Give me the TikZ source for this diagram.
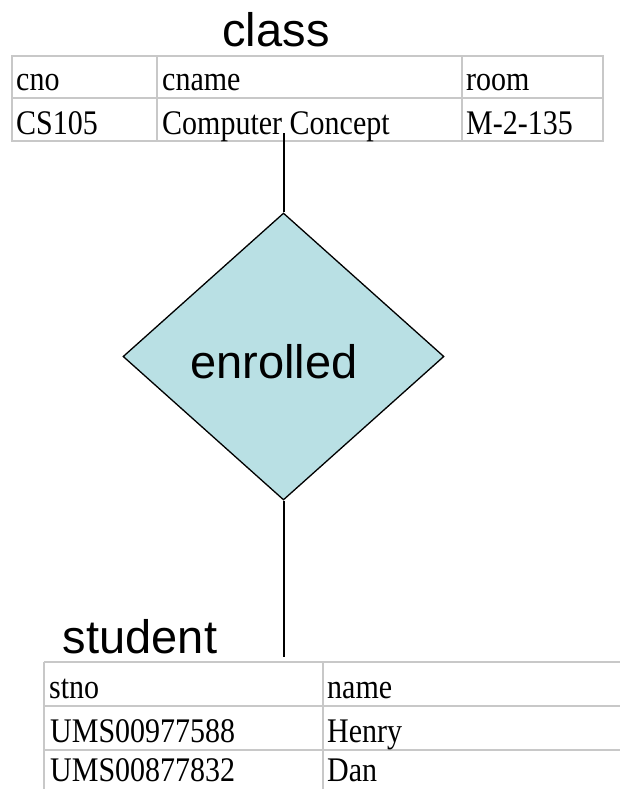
\documentclass[tikz,border=0pt]{standalone}
\usepackage{fontspec}
\usepackage{graphicx}
\setmainfont{Liberation Serif}
\newfontfamily\titlefont{Liberation Sans}
\usetikzlibrary{shapes.geometric}
\definecolor{relfill}{RGB}{185,224,228}
\definecolor{gridgray}{RGB}{200,200,200}
\newcommand{\tcell}[1]{\scalebox{1}[1.15]{#1}}
\tikzset{
  title/.style={font=\titlefont\fontsize{47}{56}\selectfont, inner sep=0pt, anchor=base},
  cell/.style={font=\fontsize{30}{36}\selectfont, inner sep=0pt, anchor=base west},
  grid/.style={draw=gridgray, line width=2pt},
  relbox/.style={diamond, draw=black, fill=relfill, line width=1.3pt, inner sep=0pt, minimum width=321pt, minimum height=287pt},
  link/.style={draw=black, line width=2pt}
}
\begin{document}
\begin{tikzpicture}[x=1pt,y=-1pt]
\useasboundingbox (0,0) rectangle (620,789);
% class table
\node[title] (classtitle) at (276,47) {class};
\draw[grid] (12,56) rectangle (603,141);
\draw[grid] (12,98) -- (603,98);
\draw[grid] (157,56) -- (157,141);
\draw[grid] (462,56) -- (462,141);
\node[cell] (c11) at (16,91) {\tcell{cno}};
\node[cell] (c12) at (162,91) {\tcell{cname}};
\node[cell] (c13) at (466,91) {\tcell{room}};
\node[cell] (c21) at (16,134) {\tcell{CS105}};
\node[cell] (c22) at (162,134) {\tcell{Computer Concept}};
\node[cell] (c23) at (466,134) {\tcell{M-2-135}};
% relationship
\node[relbox] (rel) at (283.5,356.5) {};
\node[title] (reltext) at (274,378) {enrolled};
% student table
\node[title] (studenttitle) at (140,653) {student};
\draw[grid] (44,662) -- (620,662);
\draw[grid] (44,706) -- (620,706);
\draw[grid] (44,750) -- (620,750);
\draw[grid] (44,662) -- (44,795);
\draw[grid] (323,662) -- (323,795);
\node[cell] (s11) at (49,698) {\tcell{stno}};
\node[cell] (s12) at (327,698) {\tcell{name}};
\node[cell] (s21) at (50,742) {\tcell{UMS00977588}};
\node[cell] (s22) at (327,742) {\tcell{Henry}};
\node[cell] (s31) at (50,781) {\tcell{UMS00877832}};
\node[cell] (s32) at (327,781) {\tcell{Dan}};
% connectors
\coordinate (classend) at (283.5,133);
\coordinate (studentend) at (283.5,657);
\draw[link] (classend) -- (rel.north);
\draw[link] (rel.south) -- (studentend);
\end{tikzpicture}
\end{document}
